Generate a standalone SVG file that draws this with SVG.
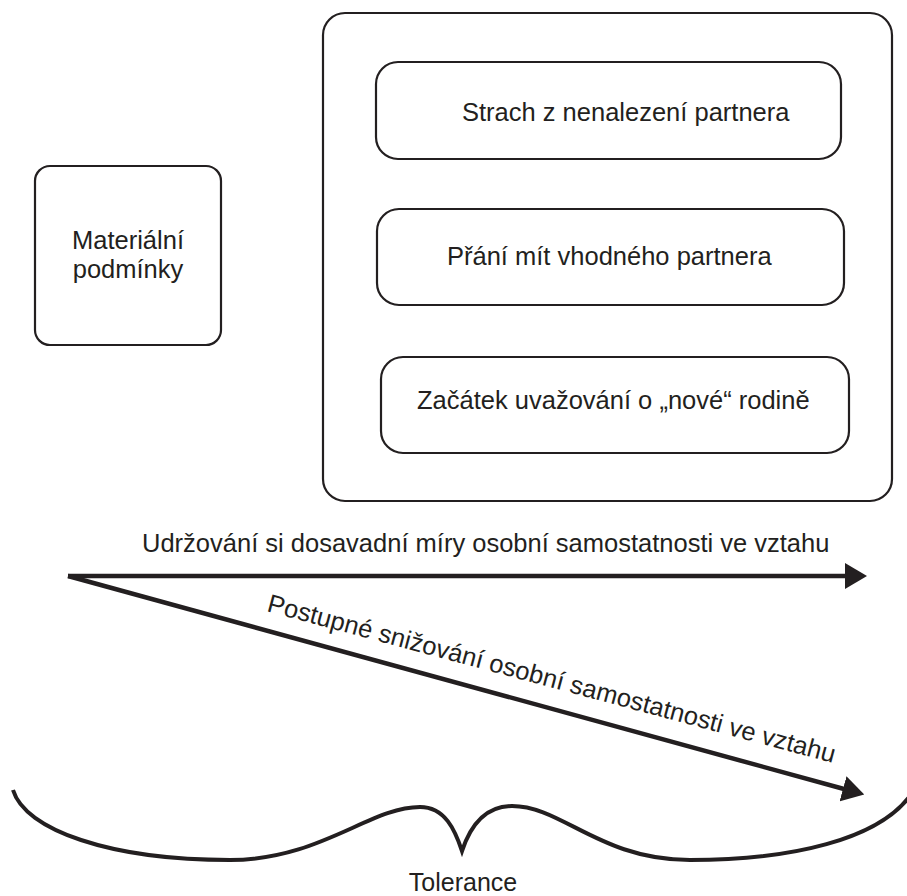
<svg xmlns="http://www.w3.org/2000/svg" width="907" height="896" viewBox="0 0 907 896">
<style>
  .box { fill: #fff; stroke: #231f20; stroke-width: 2.2; }
  .t { font-family: "Liberation Sans", Arial, sans-serif; fill: #231f20; font-size: 25.5px; }
  .arr { fill: none; stroke: #231f20; stroke-width: 4.5; }
  .brace { fill: none; stroke: #231f20; stroke-width: 4; stroke-linejoin: miter; }
</style>
<defs>
  <marker id="head" viewBox="0 0 22 26" refX="1" refY="13" markerWidth="22" markerHeight="26" markerUnits="userSpaceOnUse" orient="auto">
    <path d="M0,0 L22,13 L0,26 Z" fill="#231f20"/>
  </marker>
</defs>
<rect width="907" height="896" fill="#fff"/>

<g id="material">
  <rect class="box" x="35" y="166" width="186" height="179" rx="15"/>
  <text class="t" x="128" y="249" text-anchor="middle">Materiální</text>
  <text class="t" x="128" y="278" text-anchor="middle">podmínky</text>
</g>

<g id="container">
  <rect class="box" x="323" y="13" width="569" height="488" rx="22"/>
</g>

<g id="strach">
  <rect class="box" x="376" y="62" width="465" height="97" rx="22"/>
  <text class="t" x="462" y="121">Strach z nenalezení partnera</text>
</g>

<g id="prani">
  <rect class="box" x="377" y="209" width="467" height="96" rx="22"/>
  <text class="t" x="447" y="265">Přání mít vhodného partnera</text>
</g>

<g id="zacatek">
  <rect class="box" x="381" y="357" width="468" height="96" rx="22"/>
  <text class="t" x="417" y="409">Začátek uvažování o „nové“ rodině</text>
</g>

<g id="connectors">
  <path class="arr" d="M68,576 L846,576" marker-end="url(#head)"/>
  <path class="arr" d="M68,576 L844,789" marker-end="url(#head)"/>
</g>

<g id="labels">
  <text class="t" x="142" y="552">Udržování si dosavadní míry osobní samostatnosti ve vztahu</text>
  <text class="t" x="266" y="611" transform="rotate(15 266 611)">Postupné snižování osobní samostatnosti ve vztahu</text>
</g>

<g id="tolerance">
  <path class="brace" d="M13,790 C25,830 110,860 230,860 C320,860 370,807 420,807 C445,807 455,830 462,851 C469,830 482,806 512,806 C562,806 600,860 690,860 C790,860 880,840 912,793"/>
  <text class="t" x="463" y="891" text-anchor="middle" style="font-size:25px">Tolerance</text>
</g>
</svg>
